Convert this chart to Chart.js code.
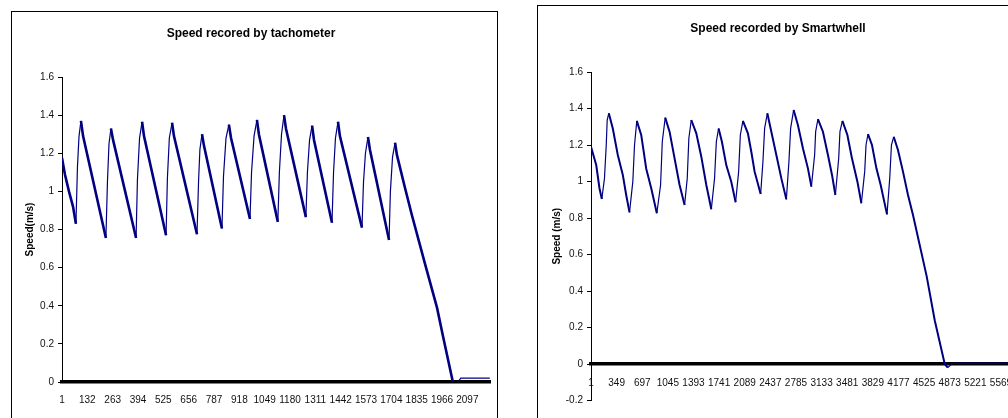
<!DOCTYPE html>
<html>
<head>
<meta charset="utf-8">
<script src="https://cdn.jsdelivr.net/npm/chart.js@4.4.0/dist/chart.umd.min.js"></script>
<style>
  html, body { margin: 0; padding: 0; background: #fff; overflow: hidden; width: 1008px; height: 418px; }
  .box { position: absolute; border: 1px solid #000; background: #fff; }
  #boxTacho { left: 11px; top: 11px; width: 485px; height: 420px; }
  #boxSmart { left: 537px; top: 5px; width: 492px; height: 430px; }
  canvas { display: block; }
</style>
</head>
<body>
<div class="box" id="boxTacho"><canvas id="tacho" width="484" height="406"></canvas></div>
<div class="box" id="boxSmart"><canvas id="smart" width="490" height="412"></canvas></div>
<script>
// sample index / speed (m/s) vertices
const tachoIdx = [1, 16, 37, 58, 73, 81, 89, 99, 110, 228, 236, 244, 254, 265, 384,
  391, 402, 415, 425, 539, 546, 556, 570, 580, 699, 707, 714, 725, 735, 828,
  836, 849, 864, 875, 973, 981, 994, 1009, 1019, 1117, 1125, 1136, 1149, 1159, 1262,
  1270, 1281, 1294, 1304, 1397, 1405, 1415, 1428, 1438, 1552, 1560, 1570, 1583, 1593, 1692,
  1699, 1710, 1723, 1733, 1774, 1810, 1878, 1940, 1971, 2022, 2032, 2048, 2063, 2213];
const tachoSpeed = [1.175, 1.09, 1.0, 0.92, 0.83, 1.13, 1.29, 1.37, 1.29, 0.755, 1.05, 1.25, 1.33, 1.27, 0.755,
  1.06, 1.28, 1.365, 1.29, 0.77, 1.07, 1.28, 1.36, 1.29, 0.775, 1.05, 1.22, 1.30, 1.24, 0.805,
  1.08, 1.28, 1.35, 1.28, 0.855, 1.1, 1.29, 1.375, 1.30, 0.84, 1.1, 1.3, 1.40, 1.33, 0.865,
  1.1, 1.27, 1.345, 1.27, 0.835, 1.1, 1.28, 1.365, 1.29, 0.81, 1.05, 1.2, 1.285, 1.22, 0.745,
  1.0, 1.18, 1.255, 1.19, 1.02, 0.876, 0.62, 0.39, 0.24, 0.0, -0.01, 0.0, 0.02, 0.02];
const tachoTicks = [1, 132, 263, 394, 525, 656, 787, 918, 1049, 1180, 1311, 1442, 1573, 1704, 1835, 1966, 2097];

// sample index / speed (m/s) vertices
const smartIdx = [1, 72, 116, 148, 184, 208, 221, 243, 297, 365, 433, 479, 524, 569, 592,
  623, 683, 751, 819, 895, 946, 969, 1009, 1068, 1136, 1204, 1272, 1308, 1330, 1363,
  1431, 1499, 1567, 1635, 1679, 1703, 1734, 1779, 1838, 1906, 1965, 2006, 2029, 2064, 2132,
  2178, 2223, 2305, 2336, 2359, 2396, 2450, 2518, 2586, 2654, 2689, 2712, 2753, 2811, 2879,
  2947, 2994, 3038, 3052, 3083, 3151, 3219, 3274, 3320, 3365, 3382, 3415, 3483, 3545, 3619,
  3673, 3718, 3736, 3763, 3817, 3877, 3935, 4021, 4058, 4081, 4112, 4170, 4238, 4306, 4374,
  4560, 4669, 4805, 4846, 4900, 4941, 5800];
const smartSpeed = [1.19, 1.09, 0.963, 0.904, 1.017, 1.20, 1.337, 1.374, 1.29, 1.145, 1.036, 0.926, 0.831, 0.999, 1.2,
  1.332, 1.255, 1.07, 0.963, 0.826, 0.981, 1.218, 1.35, 1.273, 1.127, 0.981, 0.871, 1.017, 1.237, 1.337,
  1.264, 1.136, 0.981, 0.848, 1.017, 1.218, 1.291, 1.218, 1.09, 0.999, 0.886, 1.054, 1.255, 1.332, 1.264,
  1.163, 1.054, 0.932, 1.108, 1.291, 1.374, 1.273, 1.145, 1.017, 0.902, 1.108, 1.291, 1.392, 1.31, 1.182,
  1.072, 0.972, 1.145, 1.273, 1.342, 1.273, 1.145, 1.036, 0.926, 1.127, 1.273, 1.332, 1.255, 1.127, 0.999,
  0.881, 1.054, 1.2, 1.26, 1.2, 1.072, 0.981, 0.82, 1.017, 1.2, 1.245, 1.173, 1.054, 0.926, 0.816,
  0.48, 0.24, 0.0, -0.02, 0.0, 0.005, 0.005];
const smartTicks = [1, 349, 697, 1045, 1393, 1741, 2089, 2437, 2785, 3133, 3481, 3829, 4177, 4525, 4873, 5221, 5569];

const lineColor = '#000080';

Chart.defaults.font.family = "'Liberation Sans', Arial, sans-serif";
Chart.defaults.color = '#111';

function points(idx, vals) {
  return idx.map((x, i) => ({ x: x, y: vals[i] }));
}

function yLabel(v) {
  return String(Math.round(v * 10) / 10);
}

function makeChart(id, o) {
  return new Chart(document.getElementById(id), {
    type: 'line',
    data: {
      datasets: [{
        data: points(o.idx, o.vals),
        borderColor: lineColor,
        borderWidth: 1.2,
        pointRadius: 0,
        tension: 0,
        // falling stretches look heavier than the jumps up
        segment: { borderWidth: ctx => ctx.p1.parsed.y < ctx.p0.parsed.y ? o.fallWidth : 1.2 }
      }]
    },
    options: {
      responsive: false,
      animation: false,
      events: [],
      layout: { padding: o.padding },
      plugins: {
        legend: { display: false },
        tooltip: { enabled: false },
        title: {
          display: true,
          text: o.title,
          color: '#000',
          font: { size: 12, weight: 'bold' },
          padding: o.titlePad
        }
      },
      scales: {
        x: {
          type: 'linear',
          min: 1,
          max: o.xMax,
          position: o.xPos,
          afterFit: s => { if (o.xPos === 'bottom') s.height = 36; },
          afterBuildTicks: s => { s.ticks = o.ticks.map(v => ({ value: v })); },
          grid: { display: false, drawTicks: false },
          border: { display: true, color: '#000', width: 3.5 },
          ticks: { autoSkip: false, maxRotation: 0, padding: o.xTickPad, font: { size: 10 }, callback: v => String(v) }
        },
        y: {
          min: o.yMin,
          max: 1.6,
          afterFit: s => { s.width = o.yWidth; },
          grid: { drawOnChartArea: false, tickLength: 4, color: '#000' },
          border: { color: '#000', width: 1 },
          ticks: { stepSize: 0.2, padding: 4, font: { size: 10 }, callback: yLabel },
          title: {
            display: true,
            text: o.yTitle,
            color: '#000',
            font: { size: 10, weight: 'bold' },
            padding: { top: o.yTitlePad, bottom: 0 }
          }
        }
      }
    }
  });
}

makeChart('tacho', {
  idx: tachoIdx, vals: tachoSpeed, ticks: tachoTicks,
  title: 'Speed recored by tachometer', yTitle: 'Speed(m/s)',
  xMax: 2214, yMin: 0, xPos: 'bottom', xTickPad: 12,
  yWidth: 50, yTitlePad: 12, fallWidth: 2.6,
  padding: { left: 0, right: 6, top: 0, bottom: 0 },
  titlePad: { top: 14, bottom: 36.6 }
});

makeChart('smart', {
  idx: smartIdx, vals: smartSpeed, ticks: smartTicks,
  title: 'Speed recorded by Smartwhell', yTitle: 'Speed (m/s)',
  xMax: 5800, yMin: -0.2, xPos: { y: 0 }, xTickPad: 13,
  yWidth: 53, yTitlePad: 13, fallWidth: 2,
  padding: { left: 0, right: 10, top: 0, bottom: 17.5 },
  titlePad: { top: 15, bottom: 36.6 }
});
</script>
</body>
</html>
